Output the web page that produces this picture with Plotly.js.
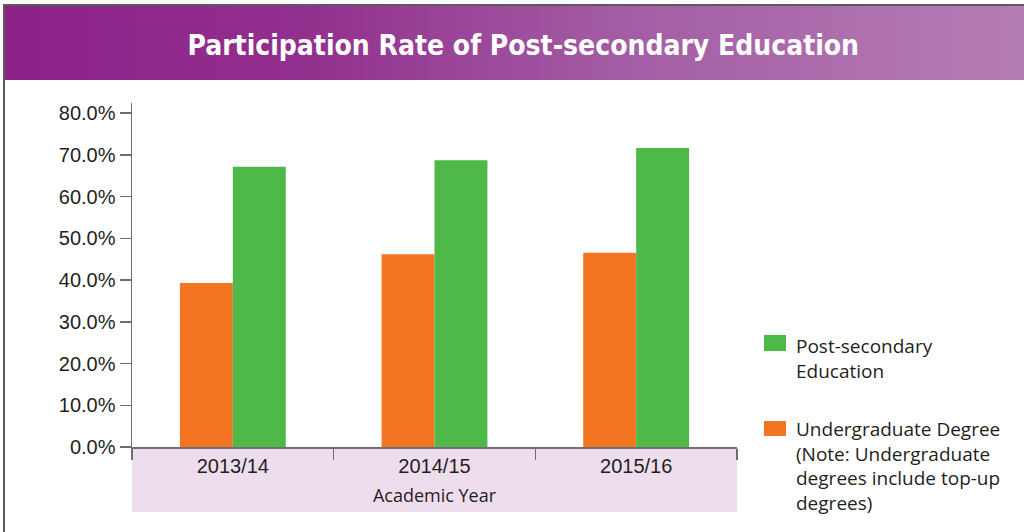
<!DOCTYPE html>
<html>
<head>
<meta charset="utf-8">
<script src="https://cdn.plot.ly/plotly-3.0.1.min.js"></script>
<style>
  html, body { margin: 0; padding: 0; background: #ffffff; }
  #wrap { position: relative; width: 1024px; height: 532px; overflow: hidden; background: #fff; }
  #frame { position: absolute; left: 3px; top: 4px; width: 1030px; height: 540px;
           border-left: 2px solid #5c5a5c; border-top: 2px solid #5c5a5c; }
  #band { position: absolute; left: 5px; top: 6px; width: 1019px; height: 74px;
          background: linear-gradient(to right, #8c2289 0%, #92308e 30%, #a35ca4 60%, #b57db5 100%); }
  #chart { position: absolute; left: 0; top: 0; width: 1024px; height: 532px; }
</style>
</head>
<body>
<div id="wrap">
  <div id="frame"></div>
  <div id="band"></div>
  <div id="chart"></div>
</div>
<script>
// ---- data ----
const categories = ['2013/14', '2014/15', '2015/16'];
const undergradValues = [39.3, 46.2, 46.5];
const postSecondaryValues = [67.1, 68.7, 71.6];
const seriesNames = ['Undergraduate Degree<br>(Note: Undergraduate<br>degrees include top-up<br>degrees)',
                     'Post-secondary<br>Education'];
const seriesColors = ['#f37421', '#4eb848'];
const yTickValues = [0, 10, 20, 30, 40, 50, 60, 70, 80];
const yTickLabels = ['0.0%', '10.0%', '20.0%', '30.0%', '40.0%', '50.0%', '60.0%', '70.0%', '80.0%'];
const chartTitle = 'Participation Rate of Post-secondary Education';
const xTitle = 'Academic Year';

const axisColor = '#6d6e71';
const textColor = '#231f20';
const tickFont = { family: 'Liberation Sans, Arial, sans-serif', size: 20, color: textColor };
const titleAxisFont = { family: 'Open Sans, Noto Sans, sans-serif', size: 18, color: textColor };
const legendFont = { family: 'Open Sans, Noto Sans, sans-serif', size: 19, color: textColor };

const traces = [
  { type: 'bar', name: seriesNames[0], x: categories, y: undergradValues,
    marker: { color: seriesColors[0] }, showlegend: false, hoverinfo: 'x+y' },
  { type: 'bar', name: seriesNames[1], x: categories, y: postSecondaryValues,
    marker: { color: seriesColors[1] }, showlegend: false, hoverinfo: 'x+y' }
];

// plot area geometry (pixels)
const M = { l: 132, r: 287, t: 103, b: 85 };
const plotW = 1024 - M.l - M.r;
const plotH = 532 - M.t - M.b;
const px = (x) => (x - M.l) / plotW;
const py = (y) => (532 - M.b - y) / plotH;

// custom legend (green entry on top, orange below)
const legendEntries = [
  { name: seriesNames[1], color: seriesColors[1], boxTop: 335, boxBot: 351, textTop: 331 },
  { name: seriesNames[0], color: seriesColors[0], boxTop: 421, boxBot: 436, textTop: 414 }
];

const shapes = [
  { type: 'rect', xref: 'paper', yref: 'paper', x0: 0, x1: 1, y0: py(512), y1: 0,
    fillcolor: '#eedeed', line: { width: 0 }, layer: 'below' }
];
const annotations = [];
legendEntries.forEach(e => {
  shapes.push({ type: 'rect', xref: 'paper', yref: 'paper',
    x0: px(764), x1: px(786), y0: py(e.boxBot), y1: py(e.boxTop),
    fillcolor: e.color, line: { width: 0 } });
  annotations.push({ xref: 'paper', yref: 'paper', x: px(794), y: py(e.textTop),
    xanchor: 'left', yanchor: 'top', align: 'left', showarrow: false,
    text: e.name, font: legendFont });
});

const layout = {
  width: 1024, height: 532,
  margin: M,
  paper_bgcolor: 'rgba(0,0,0,0)',
  plot_bgcolor: 'rgba(0,0,0,0)',
  title: {
    text: '<b>' + chartTitle + '</b>',
    font: { family: 'Liberation Sans Narrow, DejaVu Sans Condensed, Open Sans, sans-serif', size: 28, color: '#ffffff' },
    x: 0.511, xanchor: 'center', xref: 'container',
    y: 1 - 45 / 532, yanchor: 'middle', yref: 'container'
  },
  barmode: 'group',
  bargap: 0.475,
  bargroupgap: 0,
  xaxis: {
    type: 'category',
    showline: true, linecolor: axisColor, linewidth: 1.5,
    ticks: 'outside', tickson: 'boundaries', ticklen: 11, tickwidth: 1.5, tickcolor: axisColor,
    tickfont: tickFont,
    showgrid: false, zeroline: false,
    title: { text: xTitle, font: titleAxisFont, standoff: 14 },
    automargin: false
  },
  yaxis: {
    range: [0, 82.4],
    tickmode: 'array',
    tickvals: yTickValues,
    ticktext: yTickLabels,
    showline: true, linecolor: axisColor, linewidth: 1.5,
    ticks: 'outside', ticklen: 11, tickwidth: 1.5, tickcolor: axisColor,
    tickfont: tickFont,
    showgrid: false, zeroline: false,
    automargin: false
  },
  shapes: shapes,
  annotations: annotations
};

Plotly.newPlot('chart', traces, layout, { displayModeBar: false, staticPlot: true });
</script>
</body>
</html>
